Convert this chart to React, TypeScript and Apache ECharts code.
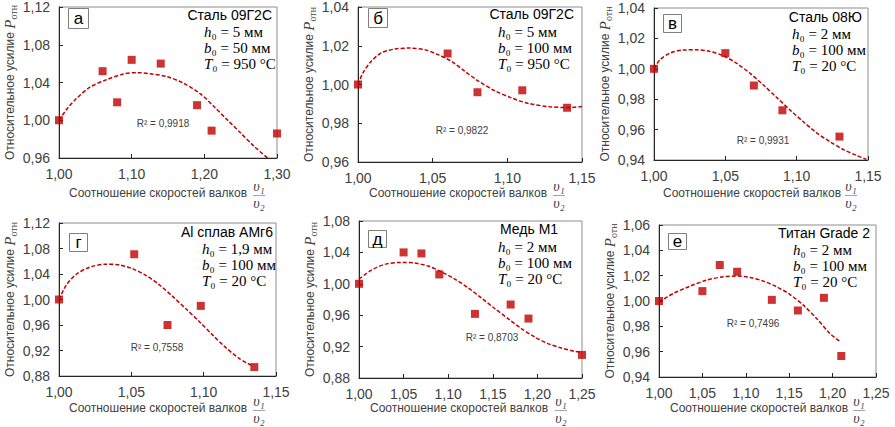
import React, { useEffect, useRef } from 'react';
import * as echarts from 'echarts';

// ---------- DATA ----------
// Panel а
const aX = [1.0, 1.06, 1.08, 1.1, 1.14, 1.19, 1.21, 1.3];
const aY = [1.0, 1.052, 1.019, 1.064, 1.06, 1.016, 0.989, 0.986];
const aTrendX = [1.0, 1.012, 1.024, 1.0425, 1.0655, 1.0886, 1.107, 1.1255, 1.1485, 1.1717, 1.1947, 1.2132, 1.2317, 1.2501, 1.2686, 1.287];
const aTrendY = [1.0, 1.013, 1.023, 1.035, 1.043, 1.049, 1.0504, 1.0493, 1.0462, 1.0391, 1.0279, 1.0145, 1.0004, 0.9864, 0.9723, 0.96];
// Panel б
const bX = [1.0, 1.06, 1.08, 1.11, 1.14];
const bY = [1.0, 1.016, 0.996, 0.997, 0.988];
const bTrendX = [1.0, 1.0033, 1.0089, 1.0156, 1.0246, 1.0346, 1.0446, 1.0536, 1.0625, 1.0714, 1.0804, 1.0915, 1.1027, 1.1138, 1.1272, 1.1406, 1.15];
const bTrendY = [1.0, 1.006, 1.012, 1.0163, 1.0183, 1.0188, 1.018, 1.0154, 1.012, 1.0069, 1.0019, 0.9968, 0.9931, 0.9903, 0.9886, 0.9881, 0.9886];
// Panel в
const vX = [1.0, 1.05, 1.07, 1.09, 1.13];
const vY = [1.0, 1.0103, 0.989, 0.9727, 0.9554];
const vTrendX = [1.0, 1.0042, 1.0112, 1.0205, 1.0299, 1.0392, 1.0485, 1.0578, 1.0672, 1.0765, 1.0858, 1.0952, 1.1045, 1.1138, 1.1232, 1.1325, 1.1418, 1.1488];
const vTrendY = [1.0, 1.0059, 1.0103, 1.0123, 1.0125, 1.0114, 1.0086, 1.0037, 0.9971, 0.9895, 0.9813, 0.973, 0.9653, 0.958, 0.9521, 0.947, 0.9431, 0.9404];
// Panel г
const gX = [1.0, 1.052, 1.075, 1.098, 1.135];
const gY = [1.0, 1.071, 0.96, 0.99, 0.894];
const gTrendX = [1.0, 1.0051, 1.012, 1.0212, 1.0327, 1.0419, 1.0511, 1.0603, 1.0695, 1.0787, 1.0879, 1.0971, 1.1063, 1.1155, 1.1247, 1.1339];
const gTrendY = [1.0, 1.0228, 1.0396, 1.0507, 1.0554, 1.0543, 1.048, 1.0375, 1.0228, 1.0045, 0.985, 0.9651, 0.9441, 0.9241, 0.9073, 0.8957];
// Panel д
const dX = [1.0, 1.05, 1.07, 1.09, 1.13, 1.17, 1.19, 1.25];
const dY = [1.0, 1.04, 1.0387, 1.0119, 0.9617, 0.9736, 0.9557, 0.9094];
const dTrendX = [1.0, 1.0138, 1.0288, 1.0475, 1.0624, 1.0774, 1.0923, 1.1073, 1.1222, 1.1371, 1.1521, 1.1671, 1.182, 1.1969, 1.2119, 1.2268, 1.2418, 1.25];
const dTrendY = [1.006, 1.0174, 1.0247, 1.0272, 1.0264, 1.0226, 1.0153, 1.006, 0.9949, 0.9821, 0.9685, 0.9557, 0.943, 0.9323, 0.9238, 0.9183, 0.914, 0.9128];
// Panel е
const eX = [1.0, 1.05, 1.07, 1.09, 1.13, 1.16, 1.19, 1.21];
const eY = [1.0, 1.0078, 1.0284, 1.0231, 1.0009, 0.9925, 1.0025, 0.9566];
const eTrendX = [1.0, 1.0165, 1.0357, 1.0549, 1.0741, 1.0895, 1.1048, 1.1202, 1.1356, 1.1509, 1.1663, 1.1816, 1.197, 1.2093];
const eTrendY = [0.9993, 1.0059, 1.0117, 1.0165, 1.0191, 1.0197, 1.0186, 1.0157, 1.0112, 1.0051, 0.9967, 0.9862, 0.9743, 0.9677];

const pointsX = [aX, bX, vX, gX, dX, eX];
const pointsY = [aY, bY, vY, gY, dY, eY];
const trendsX = [aTrendX, bTrendX, vTrendX, gTrendX, dTrendX, eTrendX];
const trendsY = [aTrendY, bTrendY, vTrendY, gTrendY, dTrendY, eTrendY];

const panelLetters = ['а', 'б', 'в', 'г', 'д', 'е'];
const materials = ['Сталь 09Г2С', 'Сталь 09Г2С', 'Сталь 08Ю', 'Al сплав АМг6', 'Медь М1', 'Титан Grade 2'];
const hValues = ['5', '5', '2', '1,9', '2', '2'];
const bValues = ['50', '100', '100', '100', '100', '100'];
const tValues = ['950', '950', '20', '20', '20', '20'];
const r2Values = ['0,9918', '0,9822', '0,9931', '0,7558', '0,8703', '0,7496'];

const xMin = [1.0, 1.0, 1.0, 1.0, 1.0, 1.0];
const xMax = [1.3, 1.15, 1.15, 1.15, 1.25, 1.25];
const xStep = [0.1, 0.05, 0.05, 0.05, 0.05, 0.05];
const yMin = [0.96, 0.96, 0.94, 0.88, 0.88, 0.94];
const yMax = [1.12, 1.04, 1.04, 1.12, 1.08, 1.06];
const yStep = [0.04, 0.02, 0.02, 0.04, 0.04, 0.02];

const xAxisTitle = 'Соотношение скоростей валков';
const yAxisTitle = 'Относительное усилие ';

// ---------- LAYOUT ----------
const LAYOUT = [
  { grid: [59, 7, 218, 151], box: [68, 8, 20, 20], title: [272, 15, 'right'], mathX: 204, mathY: [32, 48, 64], r2: [163, 123], nameX: 158, fracX: 259, row: 0 },
  { grid: [358, 5, 224, 157], box: [368, 8, 19, 19], title: [574, 14, 'right'], mathX: 498, mathY: [32, 48, 64], r2: [462, 130], nameX: 458, fracX: 559, row: 0 },
  { grid: [654, 8, 214, 152], box: [663, 14, 18, 18], title: [862, 17, 'right'], mathX: 792, mathY: [34, 50, 66], r2: [763, 140], nameX: 752, fracX: 851, row: 0 },
  { grid: [59, 223, 217, 153], box: [69, 233, 18, 18], title: [273, 232, 'right'], mathX: 202, mathY: [249, 265, 281], r2: [157, 347], nameX: 158, fracX: 259, row: 1 },
  { grid: [359, 221, 223, 157], box: [368, 230, 18, 17], title: [500, 229, 'left'], mathX: 498, mathY: [247, 263, 279], r2: [492, 337], nameX: 459, fracX: 561, row: 1 },
  { grid: [659, 225, 217, 152], box: [668, 233, 18, 16], title: [870, 233, 'right'], mathX: 793, mathY: [250, 266, 282], r2: [753, 323], nameX: 759, fracX: 859, row: 1 },
];
const ROW_NAME_Y = [193, 408];
const ROW_NUM_Y = [186, 401];
const ROW_DEN_Y = [203, 418];

const SANS = '"Liberation Sans", Arial, sans-serif';
const SERIF = '"Liberation Serif", "Times New Roman", serif';
const RED = '#C00000';
const TXT = '#404040';
const AXIS = '#262626';

const fmt = (v: number) => v.toFixed(2).replace('.', ',');

function buildOption() {
  const grid: any[] = [];
  const xAxis: any[] = [];
  const yAxis: any[] = [];
  const series: any[] = [];
  const graphic: any[] = [];

  for (let i = 0; i < 6; i++) {
    const L = LAYOUT[i];
    grid.push({
      left: L.grid[0], top: L.grid[1], width: L.grid[2], height: L.grid[3],
      show: true, borderColor: '#8c8c8c', borderWidth: 1, backgroundColor: 'transparent',
    });
    const axisCommon = {
      type: 'value',
      gridIndex: i,
      axisLine: { show: true, onZero: false, lineStyle: { color: AXIS, width: 1 } },
      axisTick: { show: true, inside: true, length: 4, lineStyle: { color: AXIS } },
      splitLine: { show: false },
    };
    xAxis.push({
      ...axisCommon,
      min: xMin[i], max: xMax[i], interval: xStep[i],
      axisLabel: { formatter: fmt, fontSize: 14, color: TXT, fontFamily: SANS, margin: 9 },
    });
    yAxis.push({
      ...axisCommon,
      min: yMin[i], max: yMax[i], interval: yStep[i],
      axisLabel: { formatter: fmt, fontSize: 14, color: TXT, fontFamily: SANS, margin: 9 },
      name: '{a|' + yAxisTitle + '}{p|P}{s|отн}',
      nameLocation: 'middle',
      nameRotate: 90,
      nameGap: 38,
      nameTextStyle: {
        color: TXT,
        rich: {
          a: { fontSize: 12, fontFamily: SANS, color: TXT },
          p: { fontSize: 15, fontFamily: SERIF, fontStyle: 'italic', color: TXT },
          s: { fontSize: 10, fontFamily: SERIF, color: TXT, padding: [7, 0, 0, 0] },
        },
      },
    });
    series.push({
      type: 'line', xAxisIndex: i, yAxisIndex: i,
      data: trendsX[i].map((x, k) => [x, trendsY[i][k]]),
      smooth: 0.3, symbol: 'none', silent: true, z: 2,
      lineStyle: { color: RED, width: 1.5, type: [4, 2] },
    });
    series.push({
      type: 'scatter', xAxisIndex: i, yAxisIndex: i,
      data: pointsX[i].map((x, k) => [x, pointsY[i][k]]),
      symbol: 'rect', symbolSize: 8, z: 3,
      itemStyle: { color: RED },
    });

    // letter box
    graphic.push({
      type: 'rect', z: 10,
      shape: { x: L.box[0] + 0.5, y: L.box[1] + 0.5, width: L.box[2], height: L.box[3] },
      style: { fill: '#fff', stroke: '#7f7f7f', lineWidth: 1 },
    });
    graphic.push({
      type: 'text', z: 11,
      x: L.box[0] + L.box[2] / 2 + 0.5, y: L.box[1] + L.box[3] / 2 + 0.5,
      style: { text: panelLetters[i], fontSize: 17, fontFamily: SANS, fill: '#000', align: 'center', verticalAlign: 'middle' },
    });
    // material
    graphic.push({
      type: 'text', z: 11, x: L.title[0] as number, y: L.title[1] as number,
      style: { text: materials[i], fontSize: 14, lineHeight: 14, fontFamily: SANS, fill: '#000', align: L.title[2], verticalAlign: 'middle' },
    });
    const mathRich = {
      i: { fontSize: 15, lineHeight: 15, fontFamily: SERIF, fontStyle: 'italic', fill: '#000' },
      r: { fontSize: 15, lineHeight: 15, fontFamily: SERIF, fill: '#000' },
    };
    const lines = [
      '{i|h}{r|₀ = ' + hValues[i] + ' мм}',
      '{i|b}{r|₀ = ' + bValues[i] + ' мм}',
      '{i|T}{r|₀ = ' + tValues[i] + ' °C}',
    ];
    lines.forEach((t, k) => {
      graphic.push({
        type: 'text', z: 11, x: L.mathX, y: L.mathY[k],
        style: { text: t, rich: mathRich, align: 'left', verticalAlign: 'middle', fill: '#000' },
      });
    });
    // R²
    graphic.push({
      type: 'text', z: 11, x: L.r2[0], y: L.r2[1],
      style: { text: 'R² = ' + r2Values[i], fontSize: 10, fontFamily: SANS, fill: TXT, align: 'center', verticalAlign: 'middle' },
    });
    // x-axis name
    graphic.push({
      type: 'text', z: 11, x: L.nameX, y: ROW_NAME_Y[L.row],
      style: { text: xAxisTitle, fontSize: 12, fontFamily: SANS, fill: TXT, align: 'center', verticalAlign: 'middle' },
    });
    // fraction v1/v2
    const barY = Math.round((ROW_NUM_Y[L.row] + ROW_DEN_Y[L.row]) / 2) + 0.5;
    graphic.push({
      type: 'text', z: 11, x: L.fracX, y: ROW_NUM_Y[L.row],
      style: { text: 'υ₁', fontSize: 14, lineHeight: 12, fontFamily: SERIF, fontStyle: 'italic', fill: TXT, align: 'center', verticalAlign: 'middle' },
    });
    graphic.push({
      type: 'line', z: 11,
      shape: { x1: L.fracX - 6, y1: barY, x2: L.fracX + 6, y2: barY },
      style: { stroke: '#8c8c8c', lineWidth: 0.8 },
    });
    graphic.push({
      type: 'text', z: 11, x: L.fracX, y: ROW_DEN_Y[L.row],
      style: { text: 'υ₂', fontSize: 14, lineHeight: 12, fontFamily: SERIF, fontStyle: 'italic', fill: TXT, align: 'center', verticalAlign: 'middle' },
    });
  }

  return {
    animation: false,
    backgroundColor: '#ffffff',
    grid, xAxis, yAxis, series, graphic,
  };
}

export default function App() {
  const ref = useRef<HTMLDivElement>(null);
  useEffect(() => {
    if (!ref.current) return;
    const chart = echarts.init(ref.current, null, { renderer: 'svg' });
    chart.setOption(buildOption() as any);
    return () => chart.dispose();
  }, []);
  return (
    <div
      ref={ref}
      style={{ position: 'fixed', left: 0, top: 0, width: 895, height: 427, background: '#fff' }}
    />
  );
}
